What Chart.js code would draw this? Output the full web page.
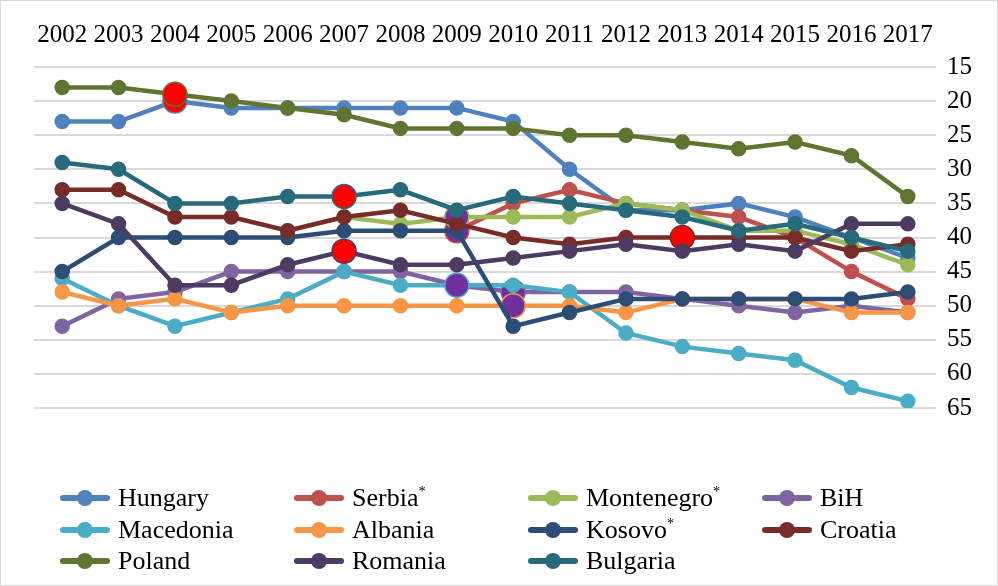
<!DOCTYPE html>
<html>
<head>
<meta charset="utf-8">
<script src="https://cdn.jsdelivr.net/npm/chart.js@4"></script>
<style>
  body { margin: 0; background: #fff; }
  #wrap { position: relative; width: 998px; height: 586px; overflow: hidden; }
  #frame { position: absolute; left: 0; top: 0; width: 998px; height: 586px; box-sizing: border-box;
           border: 1px solid #d9d9d9; pointer-events: none; }
  canvas { position: absolute; left: 0; top: 0; }
  #legend { position: absolute; left: 0; top: 0; width: 998px; height: 586px; pointer-events: none;
            font-family: "Liberation Serif", "DejaVu Serif", serif; font-size: 26px; color: #000; }
  .item { position: absolute; height: 30px; display: flex; align-items: center; }
  .sym { position: relative; width: 50px; height: 6px; margin-right: 8px; border-radius: 3px; }
  .sym i { position: absolute; left: 17px; top: -5px; width: 16px; height: 16px; border-radius: 50%; background: inherit; }
  sup { font-size: 0.55em; vertical-align: 0.7em; line-height: 0; }
</style>
</head>
<body>
<div id="wrap">
  <canvas id="chart" width="998" height="586"></canvas>
  <div id="legend"></div>
  <div id="frame"></div>
</div>
<script>
// --- Data (rank by year, lower is better) ---
const years = ['2002','2003','2004','2005','2006','2007','2008','2009','2010','2011','2012','2013','2014','2015','2016','2017'];

const hungary    = [23, 23, 20, 21, 21, 21, 21, 21, 23, 30, 36, 36, 35, 37, 40, 43];
const serbia     = [null, null, null, null, null, null, null, 39, 35, 33, 35, 36, 37, 40, 45, 49];
const montenegro = [null, null, null, null, 39, 37, 38, 37, 37, 37, 35, 36, 39, 39, 41, 44];
const bih        = [53, 49, 48, 45, 45, 45, 45, 47, 48, 48, 48, 49, 50, 51, 50, 51];
const macedonia  = [46, 50, 53, 51, 49, 45, 47, 47, 47, 48, 54, 56, 57, 58, 62, 64];
const albania    = [48, 50, 49, 51, 50, 50, 50, 50, 50, 50, 51, 49, 49, 49, 51, 51];
const kosovo     = [45, 40, 40, 40, 40, 39, 39, 39, 53, 51, 49, 49, 49, 49, 49, 48];
const croatia    = [33, 33, 37, 37, 39, 37, 36, 38, 40, 41, 40, 40, 40, 40, 42, 41];
const poland     = [18, 18, 19, 20, 21, 22, 24, 24, 24, 25, 25, 26, 27, 26, 28, 34];
const romania    = [35, 38, 47, 47, 44, 42, 44, 44, 43, 42, 41, 42, 41, 42, 38, 38];
const bulgaria   = [29, 30, 35, 35, 34, 34, 33, 36, 34, 35, 36, 37, 39, 38, 40, 42];

// highlighted points: [country, year]
const redPoints = [['Hungary', '2004'], ['Poland', '2004'], ['Bulgaria', '2007'], ['Romania', '2007'], ['Croatia', '2013']];
const purplePoints = [['Serbia*', '2009'], ['Montenegro*', '2009'], ['Macedonia', '2009'], ['BiH', '2010'], ['Albania', '2010']];

const series = [
    { label: 'Hungary',     data: hungary,    color: '#4F81BD' },
    { label: 'Serbia*',     data: serbia,     color: '#C0504D' },
    { label: 'Montenegro*', data: montenegro, color: '#9BBB59' },
    { label: 'BiH',         data: bih,        color: '#8064A2' },
    { label: 'Macedonia',   data: macedonia,  color: '#4BACC6' },
    { label: 'Albania',     data: albania,    color: '#F79646' },
    { label: 'Kosovo*',     data: kosovo,     color: '#2C4D75' },
    { label: 'Croatia',     data: croatia,    color: '#772C2A' },
    { label: 'Poland',      data: poland,     color: '#5F7530' },
    { label: 'Romania',     data: romania,    color: '#4D3B62' },
    { label: 'Bulgaria',    data: bulgaria,   color: '#276A7C' }
];

const FONT = '"Liberation Serif", "DejaVu Serif", serif';

function highlightOf(label, year) {
    if (redPoints.some(p => p[0] === label && p[1] === year)) return '#FF0000';
    if (purplePoints.some(p => p[0] === label && p[1] === year)) return '#7030A0';
    return null;
}

const datasets = series.map((s, i) => {
    const fills = years.map(y => highlightOf(s.label, y) || s.color);
    const radii = years.map(y => highlightOf(s.label, y) ? 12 : 7);
    return {
        label: s.label,
        data: s.data,
        borderColor: s.color,
        backgroundColor: s.color,
        borderWidth: 4.5,
        pointRadius: radii,
        pointBackgroundColor: fills,
        pointBorderColor: s.color,
        pointBorderWidth: 1.5,
        spanGaps: false,
        tension: 0,
        order: series.length - i   // later series drawn on top
    };
});

new Chart(document.getElementById('chart'), {
    type: 'line',
    data: { labels: years, datasets },
    options: {
        responsive: false,
        animation: false,
        layout: { padding: { left: 34, right: 0, top: 0, bottom: 178 } },
        plugins: { legend: { display: false }, tooltip: { enabled: false } },
        scales: {
            x: {
                position: 'top',
                offset: true,
                grid: { display: false, drawTicks: false },
                border: { display: false },
                ticks: { color: '#000', font: { family: FONT, size: 25 }, padding: 17, maxRotation: 0, autoSkip: false },
                afterFit: (sc) => { sc.height = 67; }
            },
            y: {
                position: 'right',
                reverse: true,
                min: 15,
                max: 65,
                grid: { color: '#d9d9d9', lineWidth: 2, drawTicks: false },
                border: { display: false },
                ticks: { stepSize: 5, color: '#000', font: { family: FONT, size: 25 }, padding: 11, autoSkip: false },
                afterFit: (sc) => { sc.width = 62; }
            }
        }
    }
});

// --- HTML legend, 4 columns ---
const legend = document.getElementById('legend');
const colX = [60, 294, 528, 762];
const rowY = [498, 530, 561];
series.forEach((s, i) => {
    const div = document.createElement('div');
    div.className = 'item';
    div.style.left = colX[i % 4] + 'px';
    div.style.top = (rowY[Math.floor(i / 4)] - 15) + 'px';
    const name = s.label.endsWith('*') ? s.label.slice(0, -1) + '<sup>*</sup>' : s.label;
    div.innerHTML = `<span class="sym" style="background:${s.color}"><i></i></span><span>${name}</span>`;
    legend.appendChild(div);
});
</script>
</body>
</html>
